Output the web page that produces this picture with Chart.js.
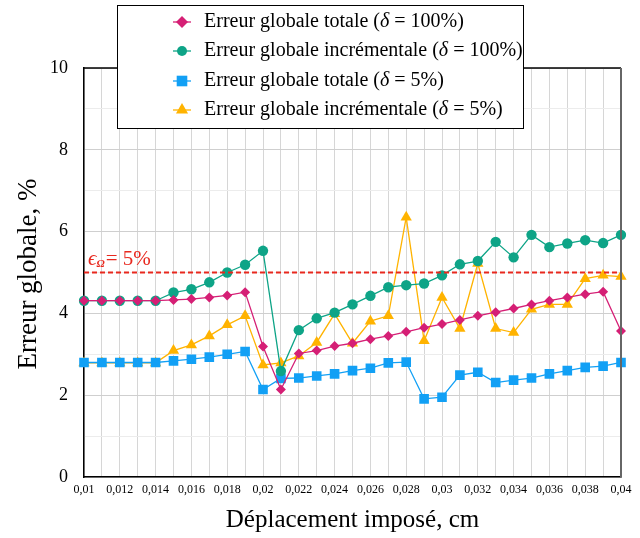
<!DOCTYPE html>
<html><head><meta charset="utf-8">
<script src="https://cdn.jsdelivr.net/npm/chart.js@4/dist/chart.umd.min.js"></script>
<style>html,body{margin:0;padding:0;background:#fff}</style>
</head><body>
<canvas id="c" width="640" height="538"></canvas>
<script>
const displacement = [0.010,0.011,0.012,0.013,0.014,0.015,0.016,0.017,0.018,0.019,0.020,0.021,0.022,0.023,0.024,0.025,0.026,0.027,0.028,0.029,0.030,0.031,0.032,0.033,0.034,0.035,0.036,0.037,0.038,0.039,0.040];
const totalErr100 = [4.31,4.31,4.31,4.31,4.31,4.33,4.35,4.39,4.44,4.52,3.19,2.14,3.02,3.09,3.20,3.27,3.37,3.45,3.55,3.65,3.74,3.84,3.94,4.03,4.12,4.22,4.31,4.39,4.47,4.53,3.57];
const incrErr100 = [4.31,4.31,4.31,4.31,4.31,4.51,4.59,4.76,5.00,5.19,5.53,2.59,3.59,3.88,4.02,4.22,4.43,4.64,4.69,4.73,4.93,5.20,5.28,5.75,5.37,5.92,5.62,5.71,5.79,5.72,5.92];
const totalErr5 = [2.80,2.80,2.80,2.80,2.80,2.84,2.88,2.93,3.00,3.07,2.14,2.41,2.42,2.47,2.52,2.60,2.66,2.79,2.81,1.91,1.95,2.49,2.56,2.31,2.37,2.42,2.52,2.60,2.68,2.71,2.80];
const incrErr5 = [2.79,2.79,2.79,2.79,2.79,3.09,3.23,3.45,3.72,3.94,2.74,2.79,2.96,3.29,3.99,3.27,3.81,3.94,6.35,3.33,4.39,3.63,5.22,3.63,3.53,4.10,4.22,4.22,4.85,4.93,4.90];
const seriesNames = ['Erreur globale totale (', 'Erreur globale incrémentale (', 'Erreur globale totale (', 'Erreur globale incrémentale ('];
const seriesDelta = [' = 100%)', ' = 100%)', ' = 5%)', ' = 5%)'];
const thresholdValue = 5;
const yTickLabels = [0,2,4,6,8,10];

const C_MAG = '#D51F75', C_GRN = '#0EA487', C_BLU = '#12A0F5', C_ORG = '#FFB300';
const SERIF = '"Liberation Serif","Times New Roman",serif';

function fmt(v){ return String(Number(v.toFixed(3))).replace('.', ','); }

function drawMarker(ctx, style, x, y, r, color){
  ctx.save(); ctx.fillStyle = color; ctx.beginPath();
  if (style === 'rectRot'){ ctx.moveTo(x-r,y); ctx.lineTo(x,y-r); ctx.lineTo(x+r,y); ctx.lineTo(x,y+r); ctx.closePath(); }
  else if (style === 'circle'){ ctx.arc(x,y,r,0,Math.PI*2); }
  else if (style === 'rect'){ const s=r*Math.SQRT1_2; ctx.rect(x-s,y-s,2*s,2*s); }
  else if (style === 'triangle'){ ctx.moveTo(x, y-r); ctx.lineTo(x+r*0.866, y+r*0.5); ctx.lineTo(x-r*0.866, y+r*0.5); ctx.closePath(); }
  ctx.fill(); ctx.restore();
}

const overlay = {
  id: 'overlay',
  afterDatasetsDraw(chart){
    const ctx = chart.ctx, a = chart.chartArea, y = chart.scales.y;
    const ty = y.getPixelForValue(thresholdValue);
    ctx.save();
    ctx.strokeStyle = '#E8281E'; ctx.lineWidth = 2; ctx.setLineDash([5,3]);
    ctx.beginPath(); ctx.moveTo(a.left, ty); ctx.lineTo(a.right, ty); ctx.stroke();
    ctx.setLineDash([]);
    ctx.fillStyle = '#E8281E'; ctx.textBaseline = 'alphabetic'; ctx.textAlign = 'left';
    let x = 88;
    ctx.font = 'italic 21px ' + SERIF; ctx.fillText('\u03F5', x, ty - 8); x += ctx.measureText('\u03F5').width;
    ctx.font = 'bold italic 11px ' + SERIF; ctx.fillText('\u03A9', x, ty - 6); x += ctx.measureText('\u03A9').width + 1;
    ctx.font = '21px ' + SERIF; ctx.fillText('= ' + thresholdValue + '%', x, ty - 8);
    ctx.restore();
  },
  afterDraw(chart){
    const ctx = chart.ctx, a = chart.chartArea;
    ctx.save();
    ctx.strokeStyle = '#000'; ctx.lineWidth = 1.5;
    ctx.beginPath(); ctx.moveTo(a.left, a.top); ctx.lineTo(a.right, a.top); ctx.stroke();
    ctx.strokeStyle = '#666'; ctx.lineWidth = 2;
    ctx.beginPath(); ctx.moveTo(a.right, a.top); ctx.lineTo(a.right, a.bottom); ctx.stroke();
    ctx.fillStyle = '#000'; ctx.textAlign = 'center'; ctx.textBaseline = 'middle';
    ctx.font = '25px ' + SERIF;
    ctx.fillText('Déplacement imposé, cm', (a.left + a.right)/2, 520);
    ctx.save(); ctx.translate(29, 274); ctx.rotate(-Math.PI/2);
    ctx.font = '27px ' + SERIF;
    ctx.fillText('Erreur globale, %', 0, 0); ctx.restore();
    const bx = 117, by = 5, bw = 406, bh = 123;
    ctx.fillStyle = '#fff'; ctx.fillRect(bx, by, bw, bh);
    ctx.strokeStyle = '#000'; ctx.lineWidth = 1; ctx.strokeRect(bx+0.5, by+0.5, bw, bh);
    const rows = [22, 51, 81, 110];
    chart.data.datasets.forEach((ds, i) => {
      const ry = rows[i], mx = 182;
      ctx.strokeStyle = ds.borderColor; ctx.lineWidth = 1.3;
      ctx.beginPath(); ctx.moveTo(mx-9, ry); ctx.lineTo(mx+9, ry); ctx.stroke();
      drawMarker(ctx, ds.pointStyle, mx, ry, ds.pointStyle==='rect'?7.5:(ds.pointStyle==='triangle'?7:(ds.pointStyle==='circle'?5:6)), ds.backgroundColor);
      ctx.fillStyle = '#000'; ctx.textAlign = 'left'; ctx.textBaseline = 'middle';
      let tx = 204;
      ctx.font = '20px ' + SERIF; ctx.fillText(seriesNames[i], tx, ry); tx += ctx.measureText(seriesNames[i]).width;
      ctx.font = 'italic 20px ' + SERIF; ctx.fillText('\u03B4', tx, ry); tx += ctx.measureText('\u03B4').width;
      ctx.font = '20px ' + SERIF; ctx.fillText(seriesDelta[i], tx, ry);
    });
    ctx.restore();
  }
};

function mk(label, data, color, style, r, order){
  return { label, data, borderColor: color, backgroundColor: color, pointBackgroundColor: color,
    pointBorderColor: color, pointStyle: style, pointRadius: r, pointHoverRadius: r,
    pointBorderWidth: 0, borderWidth: 1.3, tension: 0, order };
}

new Chart(document.getElementById('c'), {
  type: 'line',
  data: {
    labels: displacement,
    datasets: [
      mk('Erreur globale totale (δ = 100%)', totalErr100, C_MAG, 'rectRot', 5, 0),
      mk('Erreur globale incrémentale (δ = 100%)', incrErr100, C_GRN, 'circle', 5.2, 1),
      mk('Erreur globale totale (δ = 5%)', totalErr5, C_BLU, 'rect', 6.8, 2),
      mk('Erreur globale incrémentale (δ = 5%)', incrErr5, C_ORG, 'triangle', 6.5, 3)
    ]
  },
  options: {
    responsive: false, animation: false,
    layout: { padding: { top: 68, right: 19, left: 0, bottom: 0 } },
    plugins: { legend: { display: false }, tooltip: { enabled: false } },
    scales: {
      x: {
        type: 'category', offset: false,
        grid: { color: '#d6d6d6', lineWidth: 1, drawTicks: false },
        border: { color: '#000', width: 1.5 },
        ticks: { autoSkip: false, maxRotation: 0, minRotation: 0, padding: 6, color: '#000',
          font: { family: SERIF, size: 12 },
          callback: function(v, i){ return i % 2 === 0 ? fmt(displacement[i]) : ''; } },
        afterFit(s){ s.height = 61; }
      },
      y: {
        min: 0, max: 10,
        grid: { drawTicks: false, color: ctx => (ctx.tick && ctx.tick.value % 2 === 0) ? '#cfcfcf' : '#ececec' },
        border: { color: '#000', width: 1.5 },
        ticks: { stepSize: 0.5, padding: 16, color: '#000', font: { family: SERIF, size: 18 },
          callback: v => yTickLabels.includes(v) ? String(v) : '' },
        afterFit(s){ s.width = 84; }
      }
    }
  },
  plugins: [overlay]
});
</script>
</body></html>
